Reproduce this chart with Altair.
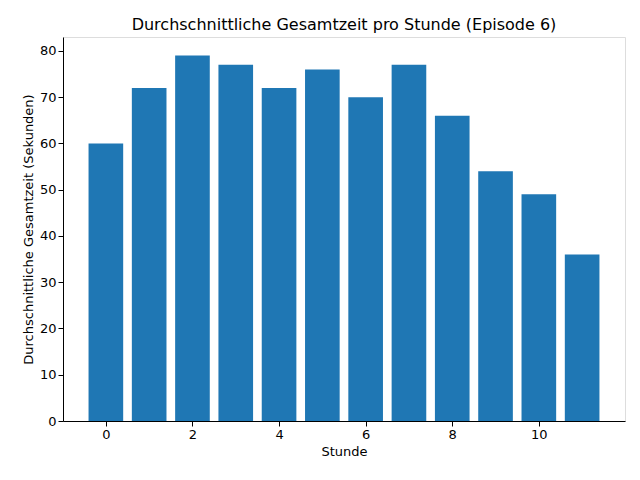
import pandas as pd
import altair as alt

hours = list(range(12))
avg_time = [60, 72, 79, 77, 72, 76, 70, 77, 66, 54, 49, 36]

df = pd.DataFrame({"Stunde": hours, "Zeit": avg_time})

axis_style = dict(grid=False, tickColor="black", domainColor="black", labelColor="black",
                  titleColor="black", titleFontWeight="normal", labelFontSize=13,
                  titleFontSize=13, offset=0, tickSize=5)

bars = alt.Chart(df).transform_calculate(
    x0="datum.Stunde - 0.4", x1="datum.Stunde + 0.4"
).mark_bar(color="#1f77b4").encode(
    x=alt.X("x0:Q", title="Stunde", scale=alt.Scale(domain=[-0.99, 11.99], nice=False, zero=False),
            axis=alt.Axis(values=[0, 2, 4, 6, 8, 10], **axis_style)),
    x2="x1:Q",
    y=alt.Y("Zeit:Q", title="Durchschnittliche Gesamtzeit (Sekunden)",
            scale=alt.Scale(domain=[0, 83], nice=False),
            axis=alt.Axis(values=[0, 10, 20, 30, 40, 50, 60, 70, 80], **axis_style)),
    y2=alt.datum(0),
)

chart = bars.properties(
    width=562, height=384,
    title=alt.TitleParams("Durchschnittliche Gesamtzeit pro Stunde (Episode 6)",
                          fontSize=16, fontWeight="normal", anchor="middle", color="black"),
    autosize=alt.AutoSizeParams(type="none"),
    padding={"left": 55, "top": 29, "right": 7, "bottom": 51},
).configure_view(stroke="black", strokeWidth=1).configure(font="DejaVu Sans")

chart.save("out.html", embed_options={"renderer": "svg", "actions": False})
